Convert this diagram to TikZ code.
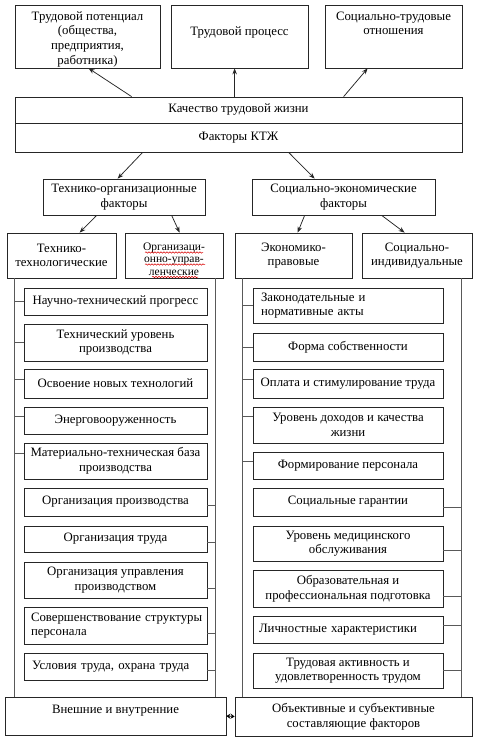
\documentclass[tikz,border=0pt]{standalone}
\usepackage{fontspec}
\setmainfont{Liberation Serif}
\usetikzlibrary{arrows.meta,calc,decorations.pathmorphing}
\newcommand{\fs}{\fontsize{12.8pt}{14.6pt}\selectfont}
\newcommand{\topbox}[4]{\parbox[c][#2][t]{#1}{\centering\vspace*{#3}\strut #4\par}}
\newcommand{\tickl}[3]{\path ([yshift=#2]#1.west) coordinate (tk); \draw[col] (tk) -- (tk -| #3);}
\newcommand{\tickr}[3]{\path ([yshift=#2]#1.east) coordinate (tk); \draw[col] (tk) -- (tk -| #3);}
\tikzset{
  box/.style={draw=black!85, line width=0.75pt, inner sep=0pt, align=center, font=\fs},
  lbox/.style={box, align=left},
  col/.style={draw=black!65, line width=1pt},
  arr/.style={draw=black!85, line width=0.75pt, -{Stealth[length=6pt,width=4.5pt]}},
  wavy/.style={draw=red!85!black, line width=0.5pt, decorate, decoration={snake, amplitude=0.7pt, segment length=3pt}},
}
\begin{document}
\begin{tikzpicture}[x=1pt,y=-1pt]
\fill[white] (0,0) rectangle (478,741);
\useasboundingbox (0,0) rectangle (478,741);

% top row
\node[box] (t1) at (87.5,36.5) {\topbox{145pt}{63pt}{5pt}{Трудовой потенциал\\(общества,\\предприятия,\\работника)}};
\node[box] (t2) at (239.5,36.5) {\topbox{137pt}{63pt}{20pt}{Трудовой процесс}};
\node[box] (t3) at (393.5,36.5) {\topbox{137pt}{63pt}{5pt}{Социально-трудовые\\отношения}};

% quality / factors
\node[box, minimum width=447, minimum height=26] (q) at (238.5,110) {Качество трудовой жизни};
\node[box, minimum width=447, minimum height=29] (f) at (238.5,137.5) {Факторы КТЖ};

\draw[arr] ([xshift=117pt]q.north west) -- ([xshift=74pt]t1.south west);
\draw[arr] ([xshift=220pt]q.north west) -- ([xshift=64pt]t2.south west);
\draw[arr] ([xshift=329pt]q.north west) -- ([xshift=43pt]t3.south west);

% level 2
\node[box, minimum width=162, minimum height=36] (a) at (124,197) {Технико-организационные\\факторы};
\node[box, minimum width=183, minimum height=36] (b) at (343.5,197) {Социально-экономические\\факторы};
\draw[arr] ([xshift=128pt]f.south west) -- ([xshift=75pt]a.north west);
\draw[arr] ([xshift=274pt]f.south west) -- ([xshift=63pt]b.north west);

% level 3
\node[box, minimum width=109, minimum height=45] (c1) at (61.5,255.5) {Технико-\\технологические};
\node[box, font=\fontsize{11.5pt}{12.5pt}\selectfont] (c2) at (174,255.5) {\topbox{98pt}{45pt}{8.5pt}{Организаци-\\онно-управ-\\ленческие}};
\node[box, minimum width=117, minimum height=45] (c3) at (293.5,255.5) {Экономико-\\правовые};
\node[box, minimum width=110, minimum height=45] (c4) at (417,255.5) {Социально-\\индивидуальные};
\draw[arr] ([xshift=54pt]a.south west) -- ([xshift=73pt]c1.north west);
\draw[arr] ([xshift=129pt]a.south west) -- ([xshift=55pt]c2.north west);
\draw[arr] ([xshift=53pt]b.south west) -- ([xshift=63pt]c3.north west);
\draw[arr] ([xshift=130pt]b.south west) -- ([xshift=43pt]c4.north west);

% spell-check underlines
\draw[wavy] ($(c2.center)+(-29,-3)$) -- ($(c2.center)+(29,-3)$);
\draw[wavy] ($(c2.center)+(-29,9)$) -- ($(c2.center)+(31,9)$);
\draw[wavy] ($(c2.center)+(-22,21.5)$) -- ($(c2.center)+(24,21.5)$);

% bottom boxes
\node[box] (bl) at (115.5,716) {\topbox{221pt}{38pt}{6pt}{Внешние и внутренние}};
\node[box, minimum width=237, minimum height=39] (br) at (353.5,716.5) {Объективные и субъективные\\составляющие факторов};
\draw[line width=0.75pt, {Stealth[length=4pt,width=5pt]}-{Stealth[length=4pt,width=5pt]}] (bl.east) -- (br.west);

% column lines
\coordinate (LA) at ([xshift=8pt]c1.south west);
\coordinate (LB) at ([xshift=91pt]c2.south west);
\coordinate (RA) at ([xshift=8pt]c3.south west);
\coordinate (RB) at ([xshift=100pt]c4.south west);
\draw[col] (LA) -- (LA |- bl.north);
\draw[col] (LB) -- (LB |- bl.north);
\draw[col] (RA) -- (RA |- br.north);
\draw[col] (RB) -- (RB |- br.north);

% left column items
\node[box, minimum width=183, minimum height=27] (l1) at (115.5,301.5) {Научно-технический прогресс};
\node[box, minimum width=183, minimum height=37] (l2) at (115.5,342.5) {Технический уровень\\производства};
\node[box, minimum width=183, minimum height=29] (l3) at (115.5,383.5) {Освоение новых технологий};
\node[box, minimum width=183, minimum height=27] (l4) at (115.5,420.5) {Энерговооруженность};
\node[box, minimum width=183, minimum height=36] (l5) at (115.5,461) {Материально-техническая база\\производства};
\node[box, minimum width=183, minimum height=28] (l6) at (115.5,502) {Организация производства};
\node[box, minimum width=183, minimum height=26] (l7) at (115.5,539) {Организация труда};
\node[box, minimum width=183, minimum height=36] (l8) at (115.5,580) {Организация управления\\производством};
\node[lbox, minimum width=183, minimum height=37, text width=169pt] (l9) at (115.5,625.5) {\mbox{Совершенствование структуры}\\\mbox{персонала}};
\node[lbox, minimum width=183, minimum height=27, text width=167pt] (l10) at (115.5,666.5) {\mbox{Условия труда, охрана труда}};

\tickl{l1}{0pt}{LA}
\tickl{l2}{0pt}{LA}
\tickl{l3}{4pt}{LA}
\tickl{l4}{4pt}{LA}
\tickl{l5}{8pt}{LA}
\tickr{l6}{-3pt}{LB}
\tickr{l7}{-3pt}{LB}
\tickr{l8}{-8pt}{LB}
\tickr{l9}{-8pt}{LB}
\tickr{l10}{-4pt}{LB}

% right column items
\node[lbox, minimum width=190, minimum height=35, text width=174pt] (r1) at (348,305.5) {\mbox{Законодательные и}\\\mbox{нормативные акты}};
\node[box, minimum width=190, minimum height=28] (r2) at (348,347) {Форма собственности};
\node[box, minimum width=190, minimum height=29] (r3) at (348,383.5) {Оплата и стимулирование труда};
\node[box, minimum width=190, minimum height=36] (r4) at (348,425) {Уровень доходов и качества\\жизни};
\node[box, minimum width=190, minimum height=27] (r5) at (348,465.5) {Формирование персонала};
\node[box, minimum width=190, minimum height=28] (r6) at (348,502) {Социальные гарантии};
\node[box, minimum width=190, minimum height=35] (r7) at (348,543.5) {Уровень медицинского\\обслуживания};
\node[box, minimum width=190, minimum height=37] (r8) at (348,588.5) {Образовательная и\\профессиональная подготовка};
\node[lbox, minimum width=190, minimum height=27, text width=178pt] (r9) at (348,629.5) {\mbox{Личностные характеристики}};
\node[box, minimum width=190, minimum height=35] (r10) at (348,670.5) {Трудовая активность и\\удовлетворенность трудом};

\tickl{r1}{0pt}{RA}
\tickl{r2}{0pt}{RA}
\tickl{r3}{4pt}{RA}
\tickl{r4}{9pt}{RA}
\tickl{r5}{4pt}{RA}
\tickr{r6}{-5pt}{RB}
\tickr{r7}{-7pt}{RB}
\tickr{r8}{-8pt}{RB}
\tickr{r9}{4pt}{RB}
\tickr{r10}{0pt}{RB}
\end{tikzpicture}
\end{document}
